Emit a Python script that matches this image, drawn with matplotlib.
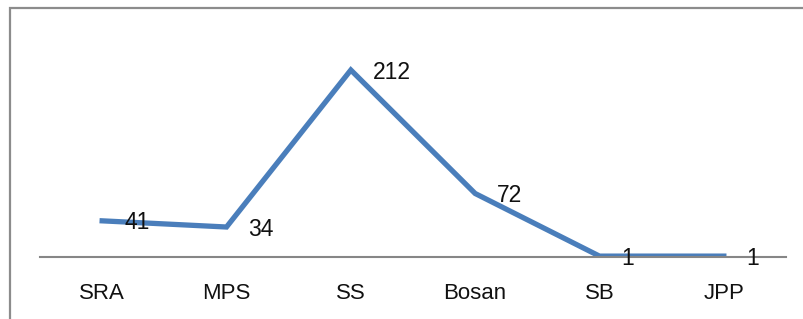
import matplotlib.pyplot as plt
from matplotlib.patches import Rectangle

categories = ["SRA", "MPS", "SS", "Bosan", "SB", "JPP"]
values = [41, 34, 212, 72, 1, 1]

fig = plt.figure(figsize=(8.04, 3.19), dpi=100)
plt.rcParams['font.family'] = ['Liberation Sans', 'DejaVu Sans']

# outer chart border (cropped at right and bottom)
fig.patches.append(Rectangle((10 / 804, -0.1), 1.2, (319 - 8) / 319 + 0.1,
                             transform=fig.transFigure, fill=False,
                             edgecolor="#8c8c8c", linewidth=1.6))

ax = fig.add_axes([40 / 804, (319 - 257) / 319, 746 / 804, 220.5 / 319])
x = [i + 0.5 for i in range(len(categories))]
ax.plot(x, values, color="#4a7ebb", linewidth=3.8, solid_joinstyle="miter")

for xi, v in zip(x, values):
    ax.annotate(str(v), (xi, v), xytext=(22, -2), textcoords="offset pixels",
                ha="left", va="center", fontsize=16.5, color="#111111")

ax.set_xlim(0, 6)
ax.set_ylim(0, 250)
ax.set_xticks(x)
ax.set_xticklabels(categories, fontsize=16, color="#111111")
ax.set_yticks([])
ax.tick_params(axis="x", length=0, pad=18.5)
for s in ["top", "right", "left"]:
    ax.spines[s].set_visible(False)
ax.spines["bottom"].set_color("#868686")
ax.spines["bottom"].set_linewidth(1.5)
ax.patch.set_alpha(0)

fig.savefig("out.png", dpi=100)
